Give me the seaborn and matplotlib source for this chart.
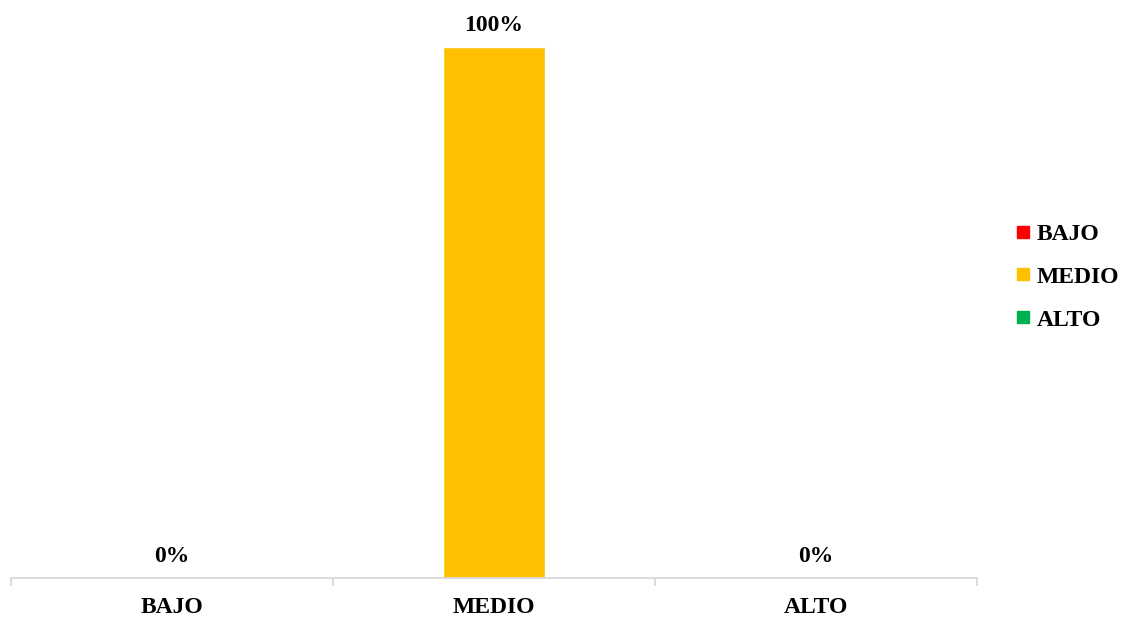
import matplotlib
matplotlib.use("Agg")
import matplotlib.pyplot as plt
import seaborn as sns
import pandas as pd
from matplotlib.lines import Line2D

categories = ["BAJO", "MEDIO", "ALTO"]
values = [0, 100, 0]
colors = ["#FF0000", "#FFC000", "#00B050"]

df = pd.DataFrame({"nivel": categories, "pct": values})

sns.set_style("white")
plt.rcParams["font.family"] = ["Liberation Serif", "DejaVu Serif"]
plt.rcParams["font.weight"] = "bold"
plt.rcParams["text.color"] = "black"
fs = 17

fig = plt.figure(figsize=(11.26, 6.21), dpi=100)
ax = fig.add_axes([11 / 1126, 43 / 621, 966 / 1126, 531 / 621])

sns.barplot(data=df, x="nivel", y="pct", hue="nivel", palette=colors,
            dodge=False, width=0.315, legend=False, ax=ax, saturation=1)

ax.set_ylim(0, 100)
ax.set_xlim(-0.5, 2.5)
ax.set_xlabel("")
ax.set_ylabel("")
ax.set_yticks([])
for s in ["top", "left", "right"]:
    ax.spines[s].set_visible(False)
ax.spines["bottom"].set_color("#D9D9D9")
ax.spines["bottom"].set_linewidth(1.3)

ax.set_xticks(range(len(categories)))
ax.set_xticklabels(categories, fontsize=fs, fontweight="bold", color="black")
ax.tick_params(axis="x", which="major", bottom=True, length=0, pad=14)
ax.set_xticks([-0.5, 0.5, 1.5, 2.5], minor=True)
ax.tick_params(axis="x", which="minor", bottom=True, length=6, width=1.3, color="#D9D9D9")

for i, v in enumerate(values):
    ax.annotate(f"{v}%", (i, v), xytext=(0, 8), textcoords="offset points",
                ha="center", va="bottom", fontsize=fs, fontweight="bold",
                color="black", annotation_clip=False)

handles = [Line2D([0], [0], marker="s", linestyle="", markersize=8,
                  markerfacecolor=c, markeredgecolor=c) for c in colors]
fig.legend(handles, categories, loc="center left", bbox_to_anchor=(1008 / 1126, 1 - 277 / 621),
           frameon=False, prop={"size": fs, "weight": "bold"},
           handlelength=0.5, handletextpad=0.3, labelspacing=0.9, borderaxespad=0)

fig.savefig("out.png", dpi=100)
